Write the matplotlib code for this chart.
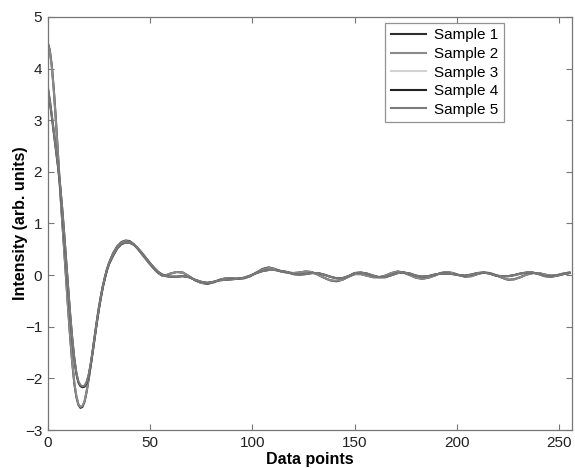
import numpy as np
import matplotlib
matplotlib.use('Agg')
import matplotlib.pyplot as plt

plt.rcParams['font.family'] = ['Liberation Sans', 'DejaVu Sans']

# data point positions (dense at start, coarser in the tail)
x_pts = np.concatenate([np.arange(0, 31, 1), np.arange(32, 60, 2), np.arange(60, 256, 3)])

sample_1 = [4.50, 4.36, 4.05, 3.58, 3.00, 2.35, 1.70, 1.10, 0.52, -0.08,
            -0.66, -1.22, -1.70, -2.10, -2.36, -2.51, -2.57, -2.55, -2.45, -2.26,
            -2.02, -1.75, -1.46, -1.17, -0.89, -0.63, -0.40, -0.20, -0.03, 0.12,
            0.24,
            0.43, 0.56, 0.64, 0.67, 0.66, 0.60, 0.51, 0.41, 0.31, 0.21, 0.12, 0.04, -0.01, 0.00,
            0.03, 0.06, 0.05, -0.02, -0.10, -0.15, -0.17, -0.14, -0.09, -0.06,
            -0.06, -0.07, -0.06, -0.02, 0.05, 0.12, 0.15, 0.12, 0.07, 0.05,
            0.04, 0.05, 0.07, 0.06, 0.01, -0.05, -0.10, -0.12, -0.09, -0.03,
            0.02, 0.02, -0.01, -0.04, -0.04, -0.01, 0.04, 0.07, 0.05, 0.00,
            -0.05, -0.07, -0.05, -0.01, 0.04, 0.06, 0.04, 0.00, -0.03, -0.02,
            0.02, 0.05, 0.04, 0.00, -0.05, -0.09, -0.08, -0.04, 0.01, 0.04,
            0.04, 0.01, -0.01, 0.00, 0.03, 0.05]
sample_2 = [4.48, 4.34, 4.03, 3.56, 2.98, 2.34, 1.69, 1.09, 0.51, -0.08,
            -0.66, -1.21, -1.69, -2.08, -2.34, -2.50, -2.55, -2.53, -2.44, -2.25,
            -2.01, -1.75, -1.46, -1.18, -0.90, -0.64, -0.41, -0.21, -0.04, 0.11,
            0.23,
            0.42, 0.55, 0.63, 0.66, 0.65, 0.60, 0.51, 0.41, 0.31, 0.21, 0.12, 0.04, -0.01, 0.00,
            0.03, 0.06, 0.05, -0.02, -0.10, -0.15, -0.16, -0.14, -0.09, -0.06,
            -0.06, -0.07, -0.06, -0.02, 0.05, 0.11, 0.14, 0.12, 0.07, 0.05,
            0.04, 0.05, 0.07, 0.06, 0.01, -0.05, -0.10, -0.11, -0.09, -0.03,
            0.02, 0.02, -0.01, -0.04, -0.04, -0.01, 0.04, 0.07, 0.05, 0.00,
            -0.05, -0.07, -0.05, -0.01, 0.04, 0.06, 0.04, 0.00, -0.03, -0.02,
            0.02, 0.05, 0.04, 0.00, -0.05, -0.09, -0.08, -0.04, 0.01, 0.04,
            0.04, 0.01, -0.01, 0.00, 0.03, 0.05]
sample_3 = [3.65, 3.38, 3.08, 2.76, 2.44, 2.12, 1.76, 1.32, 0.82, 0.28,
            -0.26, -0.78, -1.24, -1.62, -1.90, -2.07, -2.14, -2.16, -2.15, -2.08,
            -1.94, -1.73, -1.48, -1.20, -0.92, -0.66, -0.43, -0.22, -0.05, 0.10,
            0.22,
            0.38, 0.52, 0.60, 0.63, 0.63, 0.59, 0.52, 0.43, 0.33, 0.23, 0.14, 0.06, 0.01, -0.02,
            -0.03, -0.03, -0.02, -0.04, -0.09, -0.13, -0.15, -0.13, -0.10, -0.09,
            -0.08, -0.07, -0.05, -0.01, 0.04, 0.08, 0.10, 0.10, 0.08, 0.06,
            0.02, 0.01, 0.02, 0.04, 0.04, 0.01, -0.03, -0.06, -0.06, -0.02,
            0.04, 0.05, 0.03, -0.01, -0.04, -0.04, 0.00, 0.04, 0.05, 0.03,
            -0.01, -0.03, -0.02, 0.01, 0.03, 0.03, 0.02, 0.00, -0.01, 0.01,
            0.04, 0.05, 0.03, -0.01, -0.02, -0.02, 0.00, 0.03, 0.05, 0.05,
            0.02, -0.02, -0.03, -0.01, 0.02, 0.04]
sample_4 = [3.63, 3.37, 3.07, 2.75, 2.43, 2.11, 1.75, 1.31, 0.81, 0.27,
            -0.27, -0.79, -1.25, -1.63, -1.91, -2.08, -2.15, -2.17, -2.16, -2.09,
            -1.95, -1.74, -1.48, -1.20, -0.92, -0.66, -0.43, -0.22, -0.05, 0.10,
            0.22,
            0.38, 0.52, 0.60, 0.63, 0.63, 0.59, 0.52, 0.43, 0.33, 0.23, 0.14, 0.06, 0.01, -0.02,
            -0.03, -0.03, -0.02, -0.04, -0.09, -0.13, -0.15, -0.13, -0.10, -0.09,
            -0.08, -0.07, -0.05, -0.01, 0.04, 0.08, 0.10, 0.10, 0.08, 0.06,
            0.02, 0.01, 0.02, 0.04, 0.04, 0.01, -0.03, -0.06, -0.06, -0.02,
            0.04, 0.05, 0.03, -0.01, -0.04, -0.04, 0.00, 0.04, 0.05, 0.03,
            -0.01, -0.03, -0.02, 0.01, 0.03, 0.03, 0.02, 0.00, -0.01, 0.01,
            0.04, 0.05, 0.03, -0.01, -0.02, -0.02, 0.00, 0.03, 0.05, 0.05,
            0.02, -0.02, -0.03, -0.01, 0.02, 0.04]
sample_5 = [3.66, 3.39, 3.09, 2.77, 2.45, 2.13, 1.77, 1.33, 0.83, 0.29,
            -0.25, -0.77, -1.23, -1.61, -1.89, -2.06, -2.13, -2.15, -2.14, -2.07,
            -1.93, -1.72, -1.47, -1.19, -0.91, -0.65, -0.42, -0.21, -0.04, 0.11,
            0.23,
            0.39, 0.53, 0.61, 0.63, 0.63, 0.59, 0.52, 0.43, 0.33, 0.23, 0.14, 0.06, 0.01, -0.02,
            -0.03, -0.03, -0.02, -0.04, -0.09, -0.13, -0.15, -0.13, -0.10, -0.09,
            -0.08, -0.07, -0.05, -0.01, 0.04, 0.08, 0.10, 0.10, 0.08, 0.06,
            0.02, 0.01, 0.02, 0.04, 0.04, 0.01, -0.03, -0.06, -0.06, -0.02,
            0.04, 0.05, 0.03, -0.01, -0.04, -0.04, 0.00, 0.04, 0.05, 0.03,
            -0.01, -0.03, -0.02, 0.01, 0.03, 0.03, 0.02, 0.00, -0.01, 0.01,
            0.04, 0.05, 0.03, -0.01, -0.02, -0.02, 0.00, 0.03, 0.05, 0.05,
            0.02, -0.02, -0.03, -0.01, 0.02, 0.04]

labels = ['Sample 1', 'Sample 2', 'Sample 3', 'Sample 4', 'Sample 5']
colors = ['#2e2e2e', '#8a8a8a', '#d2d2d2', '#222222', '#7a7a7a']
series = [sample_1, sample_2, sample_3, sample_4, sample_5]

fig = plt.figure(figsize=(5.75, 4.68), dpi=100, facecolor='white')
ax = fig.add_axes([0.083, 0.081, 0.911, 0.883])

for y, lab, c in zip(series, labels, colors):
    assert len(y) == len(x_pts)
    ax.plot(x_pts, y, color=c, lw=1.5, label=lab)

ax.set_xlim(0, 256)
ax.set_ylim(-3, 5)
ax.set_xticks([0, 50, 100, 150, 200, 250])
ax.set_yticks(range(-3, 6))
ax.tick_params(direction='in', top=True, right=True, length=4, width=0.8,
               color='#777777', labelsize=11, labelcolor='#222222', pad=4)
for s in ax.spines.values():
    s.set_color('#777777')
    s.set_linewidth(0.9)

ax.set_xlabel('Data points', fontsize=11.5, fontweight='bold', labelpad=2)
ax.set_ylabel('Intensity (arb. units)', fontsize=11.5, fontweight='bold', labelpad=-2)

leg = ax.legend(loc='upper right', bbox_to_anchor=(0.871, 0.985), fontsize=11,
                frameon=True, fancybox=False, handlelength=2.3, labelspacing=0.3,
                borderpad=0.35, handletextpad=0.55, borderaxespad=0)
leg.get_frame().set_edgecolor('#777777')
leg.get_frame().set_linewidth(0.9)

fig.savefig('out.png', dpi=100)
